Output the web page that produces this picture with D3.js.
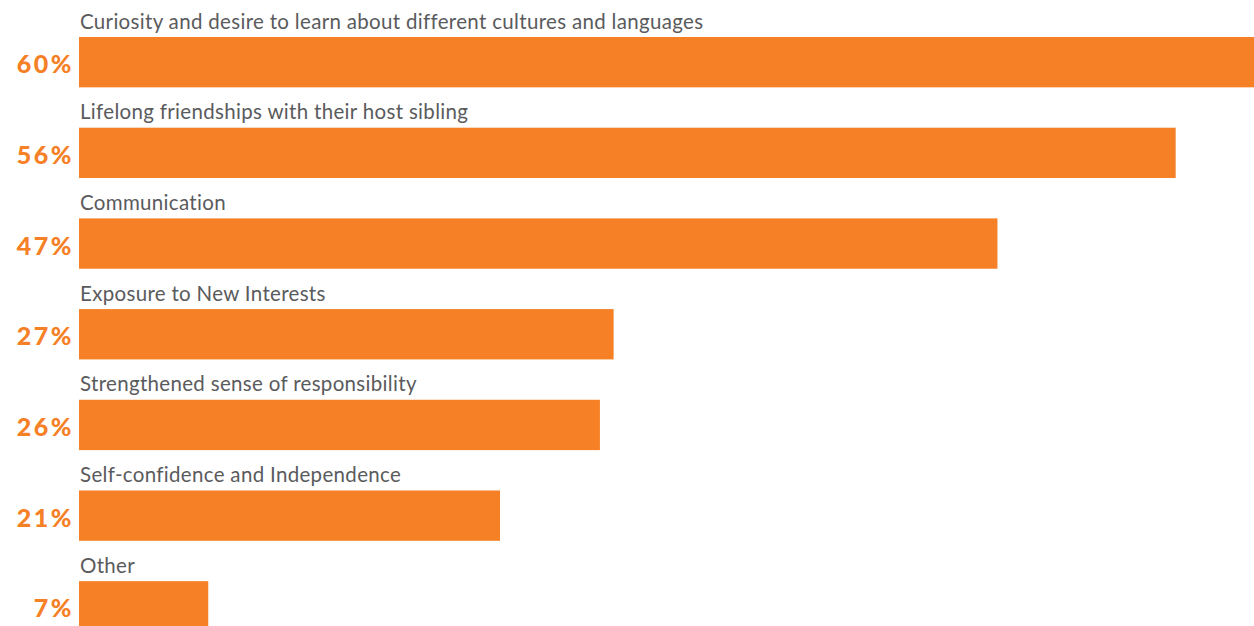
<!DOCTYPE html>
<html>
<head>
<meta charset="utf-8">
<script src="https://cdn.jsdelivr.net/npm/d3@7"></script>
<style>
  html, body { margin: 0; padding: 0; background: #ffffff; overflow: hidden; }
  svg { display: block; }
</style>
</head>
<body>
<svg id="chart" width="1254" height="626"></svg>
<script>
const categories = [
  "Curiosity and desire to learn about different cultures and languages",
  "Lifelong friendships with their host sibling",
  "Communication",
  "Exposure to New Interests",
  "Strengthened sense of responsibility",
  "Self-confidence and Independence",
  "Other"
];
const values = [60, 56, 46.9, 27.3, 26.6, 21.5, 6.6];
const valueLabels = ["60%", "56%", "47%", "27%", "26%", "21%", "7%"];

const W = 1254, H = 626;
const orange = "#F58025";
const gray = "#5A5B5D";

const svg = d3.select("#chart");

const x = d3.scaleLinear().domain([0, 60]).range([79, 1254]);
const y = d3.scaleBand().domain(categories).range([37, 631.5]).paddingInner(0.445).paddingOuter(0);

const data = categories.map((c, i) => ({ cat: c, v: values[i], label: valueLabels[i] }));

const g = svg.append("g");

g.selectAll("rect.bar")
  .data(data)
  .join("rect")
  .attr("class", "bar")
  .attr("x", x(0))
  .attr("y", d => y(d.cat))
  .attr("width", d => x(d.v) - x(0))
  .attr("height", y.bandwidth())
  .attr("fill", orange);

g.selectAll("text.cat")
  .data(data)
  .join("text")
  .attr("class", "cat")
  .attr("x", x(0) + 1)
  .attr("y", d => y(d.cat) - 8.5)
  .attr("font-family", "Lato, 'Open Sans', sans-serif")
  .attr("font-weight", 400)
  .attr("font-size", 20.5)
  .attr("letter-spacing", 0.32)
  .attr("fill", gray)
  .text(d => d.cat);

g.selectAll("text.val")
  .data(data)
  .join("text")
  .attr("class", "val")
  .attr("x", 74)
  .attr("y", d => y(d.cat) + y.bandwidth() / 2 + 11)
  .attr("text-anchor", "end")
  .attr("font-family", "Lato, 'Open Sans', sans-serif")
  .attr("font-weight", 900)
  .attr("font-size", 25)
  .attr("letter-spacing", 2.5)
  .attr("fill", orange)
  .text(d => d.label);
</script>
</body>
</html>
